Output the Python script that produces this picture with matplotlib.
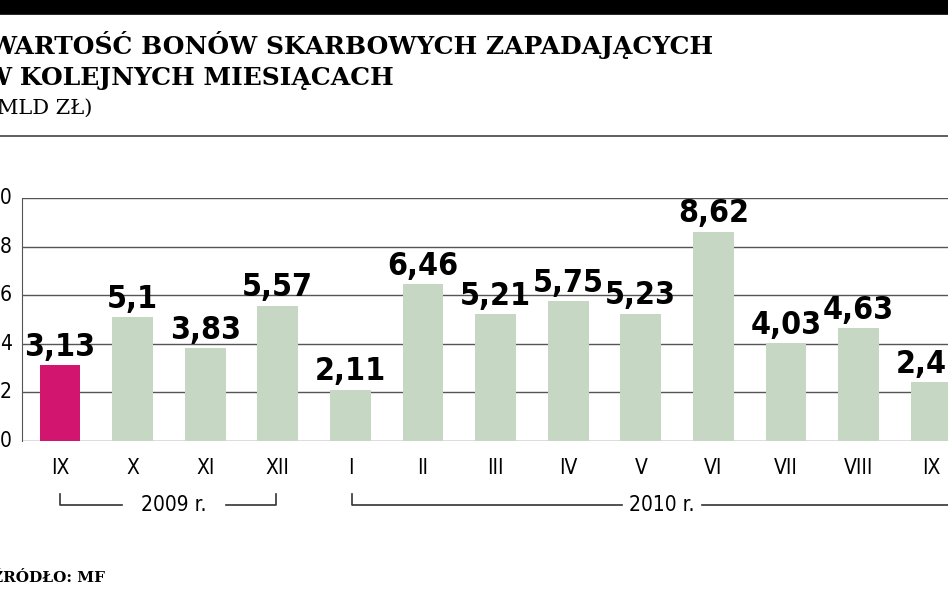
import matplotlib.pyplot as plt
from matplotlib.lines import Line2D

months = ['IX', 'X', 'XI', 'XII', 'I', 'II', 'III', 'IV', 'V', 'VI', 'VII', 'VIII', 'IX']
values = [3.13, 5.1, 3.83, 5.57, 2.11, 6.46, 5.21, 5.75, 5.23, 8.62, 4.03, 4.63, 2.42]
labels = ['3,13', '5,1', '3,83', '5,57', '2,11', '6,46', '5,21', '5,75', '5,23', '8,62', '4,03', '4,63', '2,42']
yticks = [0, 2, 4, 6, 8, 10]

green = '#c6d8c3'
pink = '#d2166f'
narrow = ['DejaVu Sans Condensed', 'DejaVu Sans']

fig = plt.figure(figsize=(9.48, 5.93), dpi=100)
W, H = 948, 593
ax = fig.add_axes([22 / W, 1 - 441 / H, (948 - 22) / W, 243 / H])

colors = [pink] + [green] * (len(values) - 1)
x = list(range(len(values)))
ax.bar(x, values, width=0.56, color=colors, zorder=2)
for xi, v, lab in zip(x, values, labels):
    ax.text(xi, v + 0.1, lab, ha='center', va='bottom', fontsize=23,
            fontweight='bold', family=narrow, fontstretch='condensed', zorder=3)

ax.set_xlim((22 - 60) / 72.6, (948 - 60) / 72.6)
ax.set_ylim(0, 10)
for t in yticks:
    ax.axhline(t, color='#555555', lw=1, zorder=1)
ax.set_xticks(x)
ax.set_xticklabels(months, fontsize=15, family=narrow, fontstretch='condensed')
ax.tick_params(length=0, pad=12)
ax.set_yticks([])
for s in ['right', 'bottom', 'top']:
    ax.spines[s].set_visible(False)
ax.spines['left'].set_color('#555555')

for t in yticks:
    fig.text(12 / W, 1 - (441 - t * 24.3) / H, str(t), ha='right', va='center',
             fontsize=15, family=narrow, fontstretch='condensed')

# year brackets
def bracket(x0, x1, label, xl):
    y = 1 - 505 / H
    yt = 1 - 494 / H
    fig.add_artist(Line2D([x0 / W, x0 / W, (xl[0]) / W], [yt, y, y], color='#333333', lw=1.2))
    fig.add_artist(Line2D([xl[1] / W, x1 / W, x1 / W], [y, y, yt], color='#333333', lw=1.2))
    fig.text((xl[0] + xl[1]) / 2 / W, y, label, ha='center', va='center', fontsize=15,
             family=narrow, fontstretch='condensed')

bracket(60, 276, '2009 r.', (122, 226))
bracket(352, 960, '2010 r.', (622, 702))

# header
fig.add_artist(Line2D([0, 1], [1 - 6 / H, 1 - 6 / H], color='black', lw=12))
fig.add_artist(Line2D([0, 1], [1 - 136 / H, 1 - 136 / H], color='#444444', lw=1.2))
fig.text(-0.012, 1 - 45 / H, 'WARTOŚĆ BONÓW SKARBOWYCH ZAPADAJĄCYCH', fontsize=18,
         fontweight='bold', family='DejaVu Serif', va='center')
fig.text(-0.018, 1 - 78 / H, 'W KOLEJNYCH MIESIĄCACH', fontsize=18,
         fontweight='bold', family='DejaVu Serif', va='center')
fig.text(-0.012, 1 - 108 / H, '(MLD ZŁ)', fontsize=15, family='DejaVu Serif', va='center')
fig.text(-0.008, 1 - 578 / H, 'ŹRÓDŁO: MF', fontsize=11, fontweight='bold',
         family='DejaVu Serif', va='center')

fig.savefig('out.png', dpi=100)
